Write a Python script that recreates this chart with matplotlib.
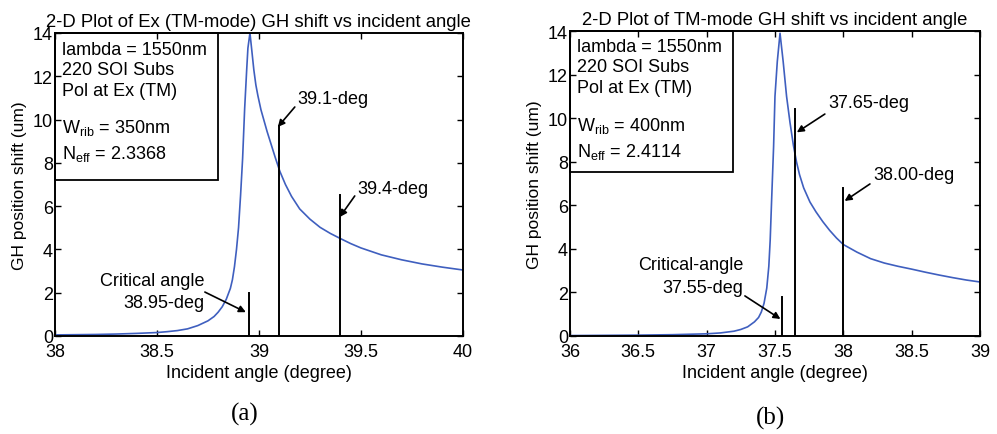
import matplotlib
matplotlib.use("Agg")
from matplotlib import pyplot as plt
from matplotlib.patches import Rectangle

# panel (a): Wrib = 350nm
angleA = [38.0, 38.1, 38.2, 38.3, 38.4, 38.5, 38.55, 38.6, 38.65, 38.7, 38.75, 38.78,
          38.8, 38.82, 38.84, 38.86, 38.87, 38.88, 38.89, 38.9, 38.91, 38.92, 38.93,
          38.94, 38.946, 38.956, 38.965, 38.975, 38.985, 38.995, 39.01, 39.025, 39.04,
          39.06, 39.08, 39.103, 39.13, 39.16, 39.2, 39.25, 39.3, 39.35, 39.4, 39.45,
          39.5, 39.6, 39.7, 39.8, 39.9, 40.0]
shiftA = [0.05, 0.06, 0.07, 0.09, 0.12, 0.16, 0.2, 0.25, 0.33, 0.48, 0.7, 0.9,
          1.1, 1.35, 1.7, 2.2, 2.6, 3.2, 4.0, 5.0, 6.5, 8.2, 10.5,
          12.3, 13.3, 14.0, 13.2, 12.3, 11.6, 11.1, 10.45, 9.95, 9.45,
          8.85, 8.25, 7.6, 7.0, 6.45, 5.87, 5.4, 5.02, 4.74, 4.5, 4.27,
          4.07, 3.75, 3.52, 3.33, 3.18, 3.05]

# panel (b): Wrib = 400nm
angleB = [36.0, 36.25, 36.5, 36.75, 37.0, 37.1, 37.2, 37.25, 37.3, 37.35, 37.38, 37.4,
          37.42, 37.44, 37.455, 37.465, 37.475, 37.49, 37.5, 37.517, 37.537, 37.56,
          37.585, 37.61, 37.635, 37.658, 37.68, 37.71, 37.756, 37.8, 37.85, 37.9, 37.95,
          38.0, 38.1, 38.2, 38.3, 38.4, 38.5, 38.6, 38.7, 38.8, 38.9, 39.0]
shiftB = [0.02, 0.03, 0.04, 0.06, 0.1, 0.14, 0.22, 0.3, 0.42, 0.65, 0.85, 1.1,
          1.5, 2.2, 3.2, 4.4, 6.15, 8.7, 11.0, 12.6, 13.9, 12.6,
          11.0, 9.8, 8.75, 7.98, 7.4, 6.8, 6.15, 5.7, 5.25, 4.85, 4.5,
          4.2, 3.85, 3.55, 3.35, 3.2, 3.07, 2.93, 2.8, 2.68, 2.57, 2.48]

# marker lines: (angle, height)
markersA = [(38.95, 2.0), (39.1, 9.7), (39.4, 6.5)]
markersB = [(37.55, 1.8), (37.65, 10.4), (38.0, 6.8)]

infoA = ["lambda = 1550nm", "220 SOI Subs", "Pol at Ex (TM)",
         r"W$_{\mathregular{rib}}$ = 350nm", r"N$_{\mathregular{eff}}$ = 2.3368"]
infoB = ["lambda = 1550nm", "220 SOI Subs", "Pol at Ex (TM)",
         r"W$_{\mathregular{rib}}$ = 400nm", r"N$_{\mathregular{eff}}$ = 2.4114"]

plt.rcParams['font.family'] = 'Liberation Sans'
plt.rcParams['mathtext.fontset'] = 'custom'
plt.rcParams['mathtext.rm'] = 'Liberation Sans'
plt.rcParams['axes.linewidth'] = 1.4

BLUE = '#3f5fbf'
FS = 13

fig = plt.figure(figsize=(9.97, 4.35), dpi=100)
axA = fig.add_axes([0.0552, 0.2253, 0.409, 0.6966])
axB = fig.add_axes([0.5717, 0.2253, 0.4112, 0.701])


def setup(ax, xlim, xticks, title):
	ax.set_xlim(xlim)
	ax.set_ylim(0, 14)
	ax.set_xticks(xticks)
	ax.set_xticklabels(["{:g}".format(t) for t in xticks])
	ax.set_yticks(range(0, 15, 2))
	ax.tick_params(direction='in', top=True, right=True, length=4, width=1,
				   labelsize=FS)
	ax.tick_params(axis='x', pad=5)
	ax.tick_params(axis='y', pad=1.5)
	ax.set_xlabel("Incident angle (degree)", fontsize=FS, labelpad=3)
	ax.set_ylabel("GH position shift (um)", fontsize=12.5, labelpad=4)
	ax.set_title(title, fontsize=13.3, pad=5)


def info_box(ax, lines, width, height, ys):
	ax.add_patch(Rectangle((0, 1 - height), width, height, transform=ax.transAxes,
						   fill=False, ec='black', lw=1.3, zorder=5, clip_on=False))
	for txt, y in zip(lines, ys):
		ax.text(0.017, y, txt, transform=ax.transAxes, fontsize=FS, va='baseline', ha='left')


arrow = dict(arrowstyle='-|>', color='black', lw=1.2, mutation_scale=10, shrinkA=0, shrinkB=0)

# ---- panel (a)
axA.plot(angleA, shiftA, color=BLUE, lw=1.2)
for x, h in markersA:
	axA.plot([x, x], [0, h], color='black', lw=1.4)
setup(axA, (38, 40), [38, 38.5, 39, 39.5, 40],
	  "2-D Plot of Ex (TM-mode) GH shift vs incident angle")
info_box(axA, infoA, 0.4, 0.485, [0.931, 0.865, 0.795, 0.673, 0.587])
axA.annotate("", xy=(39.093, 9.66), xytext=(39.176, 10.58), arrowprops=arrow)
axA.text(39.19, 10.95, "39.1-deg", fontsize=FS, va='center', ha='left')
axA.annotate("", xy=(39.397, 5.5), xytext=(39.47, 6.47), arrowprops=arrow)
axA.text(39.485, 6.8, "39.4-deg", fontsize=FS, va='center', ha='left')
axA.annotate("", xy=(38.936, 1.1), xytext=(38.735, 2.03), arrowprops=arrow)
axA.text(38.475, 2.55, "Critical angle", fontsize=FS, va='center', ha='center')
axA.text(38.735, 1.57, "38.95-deg", fontsize=FS, va='center', ha='right')

# ---- panel (b)
axB.plot(angleB, shiftB, color=BLUE, lw=1.2)
for x, h in markersB:
	axB.plot([x, x], [0, h], color='black', lw=1.4)
setup(axB, (36, 39), [36, 36.5, 37, 37.5, 38, 38.5, 39],
	  "2-D Plot of TM-mode GH shift vs incident angle")
info_box(axB, infoB, 0.398, 0.462, [0.934, 0.869, 0.8, 0.675, 0.59])
axB.annotate("", xy=(37.66, 9.35), xytext=(37.865, 10.19), arrowprops=arrow)
axB.text(37.89, 10.7, "37.65-deg", fontsize=FS, va='center', ha='left')
axB.annotate("", xy=(38.01, 6.2), xytext=(38.195, 6.98), arrowprops=arrow)
axB.text(38.22, 7.43, "38.00-deg", fontsize=FS, va='center', ha='left')
axB.annotate("", xy=(37.54, 0.78), xytext=(37.28, 1.84), arrowprops=arrow)
axB.text(36.885, 3.3, "Critical-angle", fontsize=FS, va='center', ha='center')
axB.text(37.27, 2.24, "37.55-deg", fontsize=FS, va='center', ha='right')

fig.text(245 / 997, 1 - 414 / 435, "(a)", fontsize=18, family='Liberation Serif',
		 ha='center', va='center')
fig.text(770 / 997, 1 - 418 / 435, "(b)", fontsize=18, family='Liberation Serif',
		 ha='center', va='center')

fig.savefig("out.png", dpi=100)
